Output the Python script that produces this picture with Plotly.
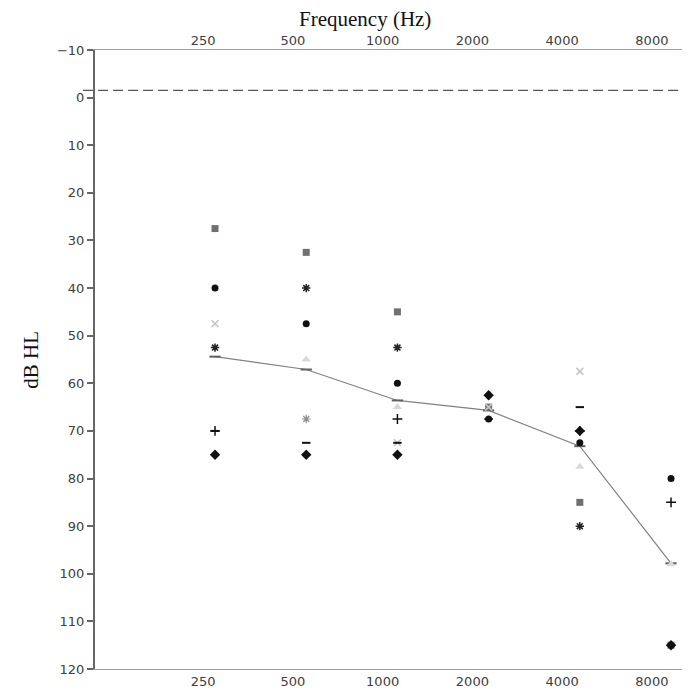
import plotly.graph_objects as go

# ---- data ----
frequencies = ["250", "500", "1000", "2000", "4000", "8000"]
y_ticks = [-10, 0, 10, 20, 30, 40, 50, 60, 70, 80, 90, 100, 110, 120]

s_square   = [27.5, 32.5, 45.0, 65.0, 85.0, 115.0]
s_circle   = [40.0, 47.5, 60.0, 67.5, 72.5, 80.0]
s_diamond  = [75.0, 75.0, 75.0, 62.5, 70.0, 115.0]
s_xlight   = [47.5, None, 72.5, 65.0, 57.5, None]
s_xdark    = [52.5, 40.0, 52.5, None, 90.0, None]
s_triangle = [None, 55.0, 65.0, None, 77.5, 98.0]
s_astlight = [None, 67.5, None, None, None, None]
s_dash     = [70.0, 72.5, 72.5, 67.5, 65.0, None]
s_plus     = [70.0, None, 67.5, None, 70.0, 85.0]
s_mean     = [54.4, 57.1, 63.6, 65.7, 73.2, 97.8]
reference_level = -1.5

# ---- positions (layout only) ----
idx = list(range(len(frequencies)))
label_pos = [i - 0.13 - 0.016 * i for i in idx]   # labels sit a little left of the points
x_range = [-1.316, 5.208]

fig = go.Figure()

def add(vals, symbol, color, size, lw=0):
    fig.add_trace(go.Scatter(
        x=idx, y=vals, mode="markers",
        marker=dict(symbol=symbol, color=color, size=size,
                    line=dict(color=color, width=lw)),
        showlegend=False, hoverinfo="skip"))

fig.add_trace(go.Scatter(
    x=idx, y=s_mean, mode="lines+markers",
    line=dict(color="#808080", width=1.2),
    marker=dict(symbol="line-ew", size=8, line=dict(color="#606060", width=2)),
    showlegend=False, hoverinfo="skip"))

add(s_square, "square", "#707070", 7)
add(s_circle, "circle", "#111111", 7)
add(s_diamond, "diamond", "#111111", 8)
add(s_xlight, "x-thin", "#c4c4c4", 7, 1.5)
add(s_xdark, "asterisk", "#222222", 7, 1.5)
add(s_triangle, "triangle-up", "#d8d8d8", 8)
add(s_astlight, "asterisk", "#8c8c8c", 7, 1.2)
add(s_dash, "line-ew", "#111111", 6, 2)
add(s_plus, "cross-thin", "#111111", 7, 1.5)

tickfont = dict(family="DejaVu Sans", size=13, color="#404040")

fig.update_layout(
    width=682, height=684,
    margin=dict(l=87, r=0, t=42, b=23, autoexpand=False),
    plot_bgcolor="white", paper_bgcolor="white",
    xaxis=dict(range=x_range, tickvals=label_pos, ticktext=frequencies,
               showgrid=False, zeroline=False, showline=True,
               linecolor="#a0a0a0", linewidth=1, ticks="",
               tickfont=tickfont, automargin=False),
    xaxis2=dict(range=x_range, tickvals=label_pos, ticktext=frequencies,
                overlaying="x", side="top", matches="x",
                showgrid=False, zeroline=False, showline=True,
                linecolor="#a0a0a0", linewidth=1, ticks="",
                tickfont=tickfont, automargin=False, ticklabelstandoff=-1),
    yaxis=dict(range=[120, -10], tickvals=y_ticks,
               showgrid=False, zeroline=False, showline=True,
               linecolor="#666666", linewidth=2, ticks="outside",
               ticklen=6, tickcolor="#666666", tickwidth=1.5,
               tickfont=tickfont, automargin=False),
)

fig.add_trace(go.Scatter(x=[None], y=[None], xaxis="x2", showlegend=False))

fig.add_shape(type="line", xref="paper", yref="y",
              x0=-0.02, x1=1.0, y0=reference_level, y1=reference_level,
              line=dict(color="#555555", width=1.2, dash="10px,5px"))

fig.add_annotation(text="Frequency (Hz)", xref="paper", yref="paper",
                   x=0.454, y=1.0501, xanchor="center", yanchor="middle",
                   showarrow=False, borderpad=0,
                   font=dict(family="Liberation Serif", size=21, color="#111111"))
fig.add_annotation(text="dB HL", xref="paper", yref="paper",
                   x=-0.109, y=0.5, xanchor="center", yanchor="middle",
                   textangle=-90, showarrow=False,
                   font=dict(family="Liberation Serif", size=21, color="#111111"))

fig.write_html("out.html")
